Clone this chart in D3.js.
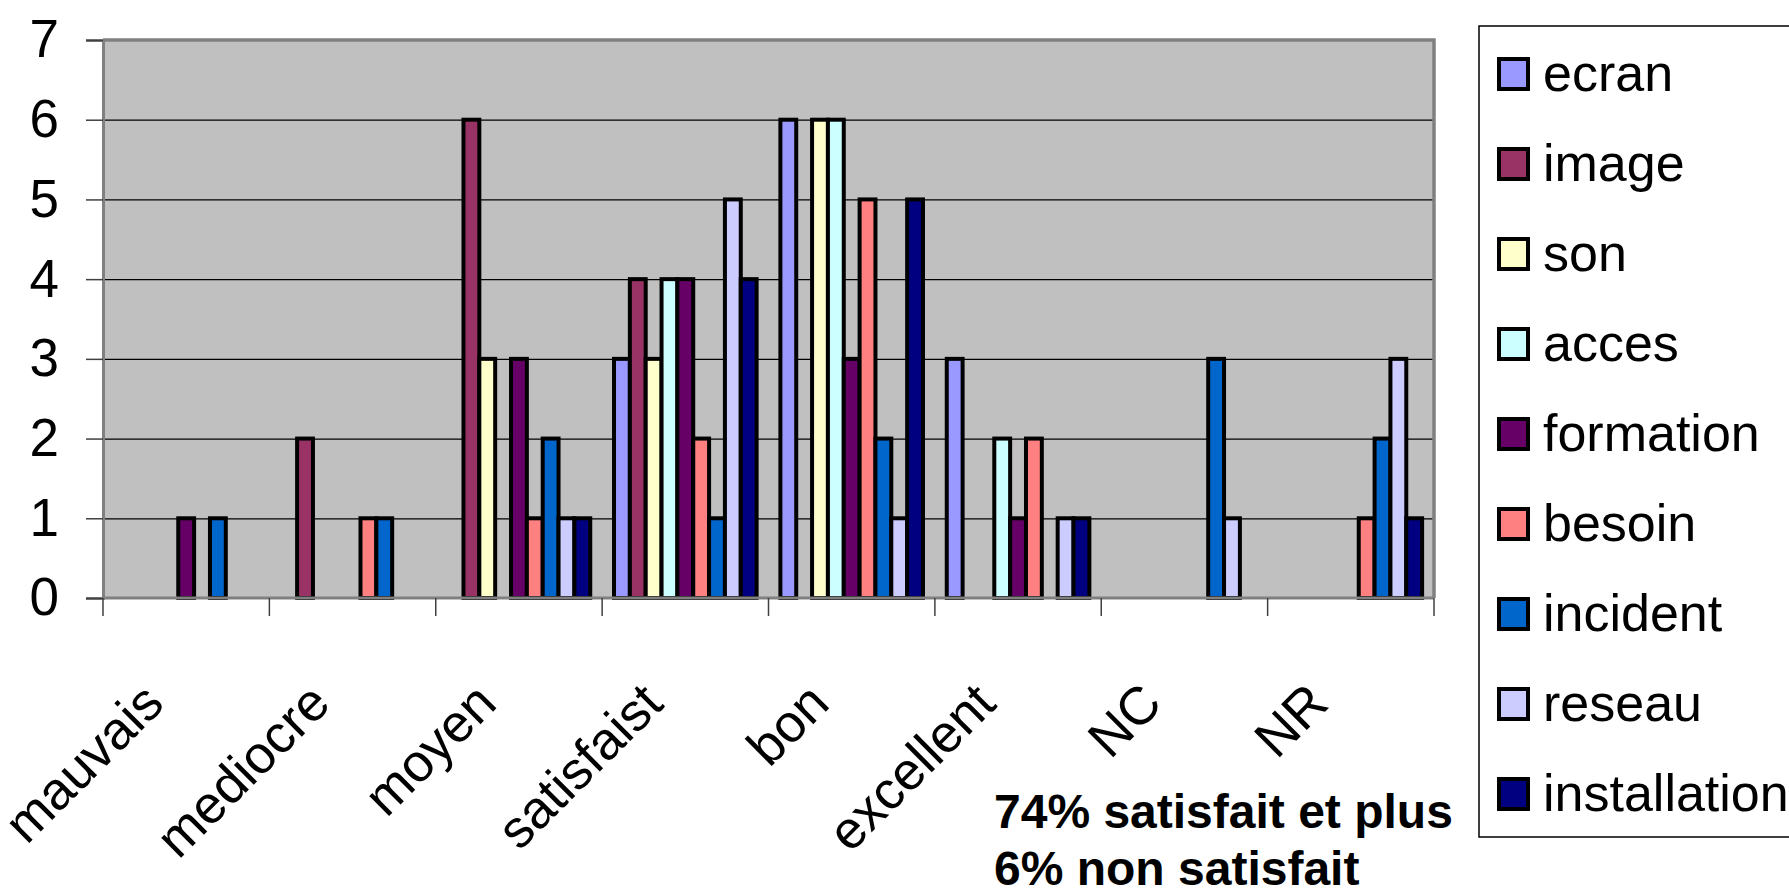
<!DOCTYPE html>
<html>
<head>
<meta charset="utf-8">
<script src="https://cdn.jsdelivr.net/npm/d3@7"></script>
<style>
  body { margin: 0; background: #fff; }
  text { font-family: "Liberation Sans", Arial, sans-serif; }
</style>
</head>
<body>
<div id="chart"></div>
<script>
// categories on the x axis
var categories = ["mauvais", "mediocre", "moyen", "satisfaist", "bon", "excellent", "NC", "NR"];
var series = ["ecran", "image", "son", "acces", "formation", "besoin", "incident", "reseau", "installation"];
var colors = ["#9999FF", "#993366", "#FFFFCC", "#CCFFFF", "#660066", "#FF8080", "#0066CC", "#CCCCFF", "#000080"];

// one array per series, same order as categories
var ecran        = [0, 0, 0, 3, 6, 3, 0, 0];
var image        = [0, 2, 6, 4, 0, 0, 0, 0];
var son          = [0, 0, 3, 3, 6, 0, 0, 0];
var acces        = [0, 0, 0, 4, 6, 2, 0, 0];
var formation    = [1, 0, 3, 4, 3, 1, 0, 0];
var besoin       = [0, 1, 1, 2, 5, 2, 0, 1];
var incident     = [1, 1, 2, 1, 2, 0, 3, 2];
var reseau       = [0, 0, 1, 5, 1, 1, 1, 3];
var installation = [0, 0, 1, 4, 5, 1, 0, 1];

var yTicks = [0, 1, 2, 3, 4, 5, 6, 7];
var notes = ["74% satisfait et plus", "6% non satisfait"];

var values = [ecran, image, son, acces, formation, besoin, incident, reseau, installation];

var margin = {top: 40, right: 355, bottom: 292, left: 103};
var fullW = 1789, fullH = 890;
var width = fullW - margin.left - margin.right;
var height = fullH - margin.top - margin.bottom;

var svg = d3.select("#chart").append("svg")
  .attr("width", fullW)
  .attr("height", fullH);

var g = svg.append("g")
  .attr("transform", "translate(" + margin.left + "," + margin.top + ")");

// excel style: 150% gap between groups
var gap = 1.5 / 10.5;
var x0 = d3.scaleBand().domain(categories).range([0, width])
  .paddingInner(gap).paddingOuter(gap / 2);
var x1 = d3.scaleBand().domain(series).range([0, x0.bandwidth()]);
var y = d3.scaleLinear().domain([0, 7]).range([height, 0]);
var color = d3.scaleOrdinal().domain(series).range(colors);

// plot background
g.append("rect")
  .attr("width", width)
  .attr("height", height)
  .attr("fill", "#C0C0C0");

// gridlines
g.append("g")
  .attr("class", "grid")
  .call(d3.axisLeft(y).tickValues(yTicks.slice(1, 7)).tickSize(-width).tickFormat(""))
  .call(function(s) {
    s.select(".domain").remove();
    s.selectAll("line").attr("stroke", "#000").attr("stroke-width", 1.2);
  });

// bars
var rows = [];
categories.forEach(function(c, i) {
  series.forEach(function(s, j) {
    if (values[j][i] > 0) rows.push({cat: c, ser: s, v: values[j][i]});
  });
});

g.selectAll("rect.bar")
  .data(rows)
  .enter()
  .append("rect")
  .attr("class", "bar")
  .attr("x", function(d) { return x0(d.cat) + x1(d.ser); })
  .attr("y", function(d) { return y(d.v); })
  .attr("width", x1.bandwidth())
  .attr("height", function(d) { return height - y(d.v); })
  .attr("fill", function(d) { return color(d.ser); })
  .attr("stroke", "#000")
  .attr("stroke-width", 4);

// plot area border (top / right)
g.append("path")
  .attr("d", "M0,0H" + width + "V" + height)
  .attr("fill", "none")
  .attr("stroke", "#808080")
  .attr("stroke-width", 3.5);

// y axis
g.append("g")
  .call(d3.axisLeft(y).tickValues(yTicks).tickSize(17).tickPadding(27).tickFormat(d3.format("d")))
  .call(function(s) {
    s.select(".domain").attr("stroke", "#808080").attr("stroke-width", 3);
    s.selectAll(".tick line").attr("stroke", "#404040").attr("stroke-width", 1.5);
    s.selectAll("text")
      .style("font-family", "'Liberation Sans', Arial, sans-serif")
      .style("font-size", "53px")
      .attr("fill", "#000");
  });

// x axis: ticks at category boundaries
var step = x0.step();
var bounds = d3.range(categories.length + 1).map(function(i) { return i * step; });

g.append("line")
  .attr("x1", 0).attr("x2", width)
  .attr("y1", height).attr("y2", height)
  .attr("stroke", "#808080")
  .attr("stroke-width", 3);

g.selectAll("line.xtick")
  .data(bounds)
  .enter()
  .append("line")
  .attr("class", "xtick")
  .attr("x1", function(d) { return d; })
  .attr("x2", function(d) { return d; })
  .attr("y1", height)
  .attr("y2", height + 18)
  .attr("stroke", "#404040")
  .attr("stroke-width", 1.5);

g.selectAll("text.xlabel")
  .data(categories)
  .enter()
  .append("text")
  .attr("class", "xlabel")
  .attr("text-anchor", "end")
  .attr("transform", function(d) {
    var cx = x0(d) + x0.bandwidth() / 2 - 20;
    return "translate(" + cx + "," + (height + 108) + ") rotate(-45)";
  })
  .style("font-size", "53px")
  .text(function(d) { return d; });

// legend
var legend = svg.append("g")
  .attr("transform", "translate(1479,26)");

legend.append("rect")
  .attr("width", 330)
  .attr("height", 811)
  .attr("fill", "#fff")
  .attr("stroke", "#000")
  .attr("stroke-width", 1.5);

var item = legend.selectAll("g.item")
  .data(series)
  .enter()
  .append("g")
  .attr("class", "item")
  .attr("transform", function(d, i) { return "translate(0," + (31 + i * 90) + ")"; });

item.append("rect")
  .attr("x", 20)
  .attr("y", 2)
  .attr("width", 29)
  .attr("height", 30)
  .attr("fill", function(d) { return color(d); })
  .attr("stroke", "#000")
  .attr("stroke-width", 4);

item.append("text")
  .attr("x", 64)
  .attr("y", 34)
  .style("font-size", "52px")
  .text(function(d) { return d; });

// note under the chart
svg.selectAll("text.note")
  .data(notes)
  .enter()
  .append("text")
  .attr("class", "note")
  .attr("x", 994)
  .attr("y", function(d, i) { return 828 + i * 57; })
  .style("font-size", "48px")
  .style("font-weight", "bold")
  .text(function(d) { return d; });
</script>
</body>
</html>
